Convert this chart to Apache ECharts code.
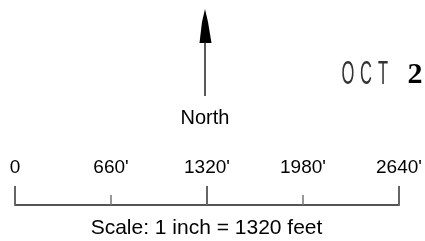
<!DOCTYPE html>
<html>
<head>
<meta charset="utf-8">
<script src="https://cdn.jsdelivr.net/npm/echarts@6/dist/echarts.min.js"></script>
<style>
  html, body { margin: 0; padding: 0; background: #fff; }
  #chart { width: 425px; height: 241px; }
</style>
</head>
<body>
<div id="chart"></div>
<script>
// scale bar values (feet)
const scaleMin = 0
const scaleMax = 2640
const labelStep = 660
const majorStep = 1320
const tickLabels = ['0', "660'", "1320'", "1980'", "2640'"]
const caption = 'Scale: 1 inch = 1320 feet'
const northText = 'North'
const stampLetters = ['O', 'C', 'T']
const stampDay = '2'

const font = 'Liberation Sans, Arial, sans-serif'
const chart = echarts.init(document.getElementById('chart'))

chart.setOption({
  animation: false,
  grid: { left: 15, right: 26, top: 150, bottom: 36 },
  xAxis: [
    {
      type: 'value',
      min: scaleMin,
      max: scaleMax,
      interval: labelStep,
      position: 'bottom',
      axisLine: { lineStyle: { color: '#555', width: 2 } },
      axisTick: { inside: true, length: 10, lineStyle: { color: '#777', width: 1.5 } },
      axisLabel: {
        inside: true,
        margin: 28,
        fontSize: 19,
        fontFamily: font,
        color: '#000',
        showMinLabel: true,
        showMaxLabel: true,
        formatter: v => tickLabels[Math.round(v / labelStep)]
      },
      splitLine: { show: false }
    },
    {
      type: 'value',
      min: scaleMin,
      max: scaleMax,
      interval: majorStep,
      position: 'bottom',
      axisLine: { show: false },
      axisTick: { inside: true, length: 19, lineStyle: { color: '#666', width: 2 } },
      axisLabel: { show: false },
      splitLine: { show: false }
    }
  ],
  yAxis: { type: 'value', show: false },
  series: [],
  graphic: [
    // north arrow
    {
      type: 'polygon',
      shape: { points: [[205, 9], [202, 22], [199.5, 43], [211.5, 43], [208, 22]] },
      style: { fill: '#000' }
    },
    {
      type: 'line',
      shape: { x1: 205, y1: 42, x2: 205, y2: 96 },
      style: { stroke: '#222', lineWidth: 1.5 }
    },
    {
      type: 'text',
      x: 205,
      y: 118,
      style: { text: northText, fontSize: 20, fontFamily: font, fill: '#000', align: 'center', verticalAlign: 'middle' }
    },
    // date stamp
    ...stampLetters.map((ch, i) => ({
      type: 'text',
      x: [348, 366, 383][i],
      y: 75,
      scaleX: 0.5,
      style: { text: ch, fontSize: 33, fontFamily: font, fill: '#333', align: 'center', verticalAlign: 'middle' }
    })),
    {
      type: 'text',
      x: 415,
      y: 75,
      style: { text: stampDay, fontSize: 30, fontWeight: 'bold', fontFamily: 'Liberation Serif, serif', fill: '#000', align: 'center', verticalAlign: 'middle' }
    },
    // caption
    {
      type: 'text',
      x: 206.5,
      y: 228,
      style: { text: caption, fontSize: 21, fontFamily: font, fill: '#000', align: 'center', verticalAlign: 'middle' }
    }
  ]
})
</script>
</body>
</html>
